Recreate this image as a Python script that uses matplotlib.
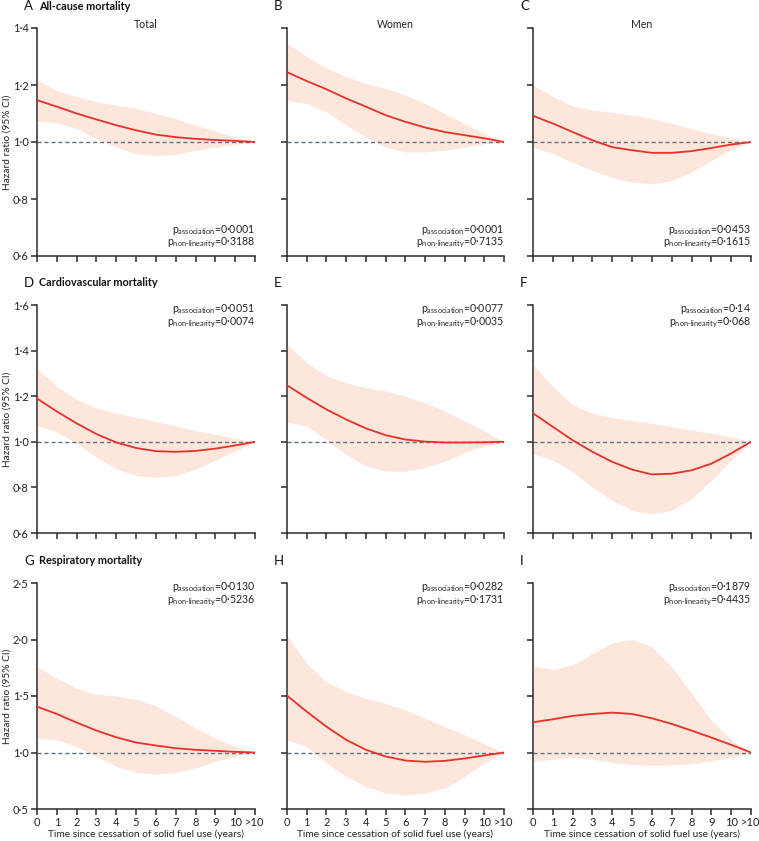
import matplotlib
matplotlib.use("Agg")
import matplotlib.pyplot as plt
import numpy as np

plt.rcParams['font.family'] = ['Lato', 'DejaVu Sans']
plt.rcParams['mathtext.fontset'] = 'custom'
plt.rcParams['mathtext.rm'] = 'Lato'
plt.rcParams['mathtext.it'] = 'Lato'

# ---------------- data ----------------
years = [0, 1, 2, 3, 4, 5, 6, 7, 8, 9, 10, 11]
x_ticklabels = ['0', '1', '2', '3', '4', '5', '6', '7', '8', '9', '10', '>10']

# Row 1: all-cause mortality
a_hr = [1.147, 1.124, 1.100, 1.079, 1.059, 1.041, 1.026, 1.017, 1.011, 1.007, 1.004, 1.0]
a_hi = [1.218, 1.180, 1.159, 1.141, 1.129, 1.118, 1.100, 1.082, 1.059, 1.038, 1.018, 1.0]
a_lo = [1.074, 1.067, 1.047, 1.012, 0.982, 0.959, 0.952, 0.956, 0.971, 0.982, 0.992, 1.0]

b_hr = [1.245, 1.214, 1.185, 1.153, 1.124, 1.094, 1.071, 1.051, 1.035, 1.024, 1.013, 1.0]
b_hi = [1.347, 1.300, 1.259, 1.229, 1.206, 1.188, 1.165, 1.135, 1.100, 1.065, 1.029, 1.0]
b_lo = [1.147, 1.135, 1.106, 1.059, 1.018, 0.982, 0.965, 0.965, 0.971, 0.982, 0.994, 1.0]

c_hr = [1.092, 1.065, 1.035, 1.006, 0.982, 0.971, 0.962, 0.962, 0.968, 0.979, 0.991, 1.0]
c_hi = [1.200, 1.159, 1.126, 1.112, 1.104, 1.094, 1.082, 1.065, 1.047, 1.029, 1.014, 1.0]
c_lo = [0.982, 0.959, 0.929, 0.900, 0.876, 0.859, 0.853, 0.865, 0.894, 0.935, 0.973, 1.0]

# Row 2: cardiovascular mortality
d_hr = [1.190, 1.133, 1.081, 1.034, 0.997, 0.973, 0.959, 0.956, 0.960, 0.970, 0.984, 1.0]
d_hi = [1.321, 1.244, 1.185, 1.148, 1.126, 1.108, 1.089, 1.070, 1.049, 1.033, 1.015, 1.0]
d_lo = [1.070, 1.044, 0.993, 0.933, 0.881, 0.852, 0.844, 0.852, 0.881, 0.919, 0.960, 1.0]

e_hr = [1.248, 1.193, 1.142, 1.098, 1.059, 1.029, 1.010, 1.001, 0.997, 0.997, 0.998, 1.0]
e_hi = [1.428, 1.348, 1.289, 1.259, 1.237, 1.223, 1.200, 1.171, 1.135, 1.091, 1.047, 1.0]
e_lo = [1.086, 1.069, 1.010, 0.944, 0.893, 0.871, 0.871, 0.886, 0.915, 0.952, 0.981, 1.0]

f_hr = [1.125, 1.066, 1.007, 0.956, 0.912, 0.878, 0.857, 0.860, 0.875, 0.904, 0.949, 1.0]
f_hi = [1.338, 1.243, 1.162, 1.125, 1.107, 1.093, 1.081, 1.066, 1.051, 1.037, 1.022, 1.0]
f_lo = [0.949, 0.919, 0.868, 0.801, 0.743, 0.699, 0.684, 0.699, 0.750, 0.831, 0.919, 1.0]

# Row 3: respiratory mortality
g_hr = [1.406, 1.341, 1.265, 1.194, 1.135, 1.088, 1.062, 1.038, 1.024, 1.015, 1.006, 1.0]
g_hi = [1.759, 1.656, 1.568, 1.515, 1.500, 1.470, 1.412, 1.318, 1.215, 1.126, 1.053, 1.0]
g_lo = [1.126, 1.112, 1.053, 0.965, 0.876, 0.824, 0.809, 0.824, 0.862, 0.921, 0.971, 1.0]

h_hr = [1.503, 1.362, 1.229, 1.112, 1.024, 0.965, 0.929, 0.918, 0.926, 0.947, 0.974, 1.0]
h_hi = [2.038, 1.788, 1.626, 1.538, 1.479, 1.435, 1.376, 1.303, 1.229, 1.156, 1.076, 1.0]
h_lo = [1.112, 1.053, 0.906, 0.788, 0.700, 0.641, 0.626, 0.641, 0.685, 0.788, 0.906, 1.0]

i_hr = [1.268, 1.294, 1.324, 1.341, 1.353, 1.341, 1.303, 1.253, 1.194, 1.132, 1.068, 1.0]
i_hi = [1.765, 1.735, 1.774, 1.876, 1.971, 2.000, 1.935, 1.759, 1.524, 1.288, 1.112, 1.0]
i_lo = [0.921, 0.941, 0.959, 0.941, 0.912, 0.894, 0.888, 0.891, 0.900, 0.926, 0.959, 1.0]

panel_letters = ['A', 'B', 'C', 'D', 'E', 'F', 'G', 'H', 'I']
row_titles = ['All-cause mortality', 'Cardiovascular mortality', 'Respiratory mortality']
col_titles = ['Total', 'Women', 'Men']

p_assoc = ['0·0001', '0·0001', '0·0453', '0·0051', '0·0077', '0·14', '0·0130', '0·0282', '0·1879']
p_nonlin = ['0·3188', '0·7135', '0·1615', '0·0074', '0·0035', '0·068', '0·5236', '0·1731', '0·4435']

row_yticks = [[0.6, 0.8, 1.0, 1.2, 1.4],
              [0.6, 0.8, 1.0, 1.2, 1.4, 1.6],
              [0.5, 1.0, 1.5, 2.0, 2.5]]
row_yticklabels = [['0·6', '0·8', '1·0', '1·2', '1·4'],
                   ['0·6', '0·8', '1·0', '1·2', '1·4', '1·6'],
                   ['0·5', '1·0', '1·5', '2·0', '2·5']]

series = [(a_hr, a_lo, a_hi), (b_hr, b_lo, b_hi), (c_hr, c_lo, c_hi),
          (d_hr, d_lo, d_hi), (e_hr, e_lo, e_hi), (f_hr, f_lo, f_hi),
          (g_hr, g_lo, g_hi), (h_hr, h_lo, h_hi), (i_hr, i_lo, i_hi)]

# ---------------- style ----------------
W, H = 759, 841
fig = plt.figure(figsize=(W / 100, H / 100), dpi=100)

col_left = [37, 287, 533]
col_width = [218, 217, 218]
row_top = [28, 305, 583]
row_bot = [256, 533, 809]

line_color = '#e8302a'
fill_color = '#fde6dc'
ref_color = '#5f7480'
spine_color = '#2b2b2b'
text_color = '#222222'

sub_assoc = 'p$_{\\mathrm{association}}$='
sub_nonlin = 'p$_{\\mathrm{non' + '\u2010' + 'linearity}}$='

for r in range(3):
    for c in range(3):
        k = r * 3 + c
        hpx = row_bot[r] - row_top[r]
        ax = fig.add_axes([col_left[c] / W, 1 - row_bot[r] / H,
                           col_width[c] / W, hpx / H])
        hr, lo, hi = series[k]
        ax.fill_between(years, lo, hi, color=fill_color, lw=0, zorder=1)
        ax.axhline(1.0, color=ref_color, lw=1.0, ls=(0, (3, 2)), zorder=2)
        ax.plot(years, hr, color=line_color, lw=1.3, zorder=3)
        ax.set_xlim(0, 11)
        ax.set_ylim(row_yticks[r][0], row_yticks[r][-1])
        for s in ['top', 'right']:
            ax.spines[s].set_visible(False)
        for s in ['left', 'bottom']:
            ax.spines[s].set_color(spine_color)
            ax.spines[s].set_linewidth(1.1)
        ax.tick_params(direction='out', length=4, width=1.1, color=spine_color,
                       labelsize=8, labelcolor=text_color, pad=2)
        ax.set_xticks(years)
        ax.set_yticks(row_yticks[r])
        if r == 2:
            ax.set_xticklabels(x_ticklabels)
            fig.text((col_left[c] + col_width[c] / 2) / W, 1 - 834 / H,
                     'Time since cessation of solid fuel use (years)',
                     ha='center', va='center', fontsize=7.3, color=text_color)
        else:
            ax.set_xticklabels([])
        if c == 0:
            ax.set_yticklabels(row_yticklabels[r])
            fig.text(7 / W, 1 - (row_top[r] + hpx / 2) / H, 'Hazard ratio (95% CI)',
                     rotation=90, ha='center', va='center', fontsize=7.3, color=text_color)
        else:
            ax.set_yticklabels([])

        # p values
        t1 = sub_assoc + p_assoc[k]
        t2 = sub_nonlin + p_nonlin[k]
        if r == 0:
            y1, y2 = 0.114, 0.057
        else:
            y1, y2 = 0.983, 0.922
        ax.text(1.0, y1, t1, transform=ax.transAxes, ha='right', va='center',
                fontsize=7.6, color=text_color)
        ax.text(1.0, y2, t2, transform=ax.transAxes, ha='right', va='center',
                fontsize=7.6, color=text_color)

        if r == 0:
            fig.text((col_left[c] + col_width[c] / 2) / W, 1 - 24 / H, col_titles[c],
                     ha='center', va='center', fontsize=7.6, color=text_color)

        # panel letters
        ly = row_top[r] - 22
        lx = col_left[c] - 13
        fig.text(lx / W, 1 - ly / H, panel_letters[k], ha='left', va='center',
                 fontsize=9.5, color='#111111')
        if c == 0:
            fig.text((col_left[c] + 2) / W, 1 - ly / H, row_titles[r], ha='left',
                     va='center', fontsize=7.8, fontweight='bold', color='#111111')

fig.savefig('out.png', dpi=100)
